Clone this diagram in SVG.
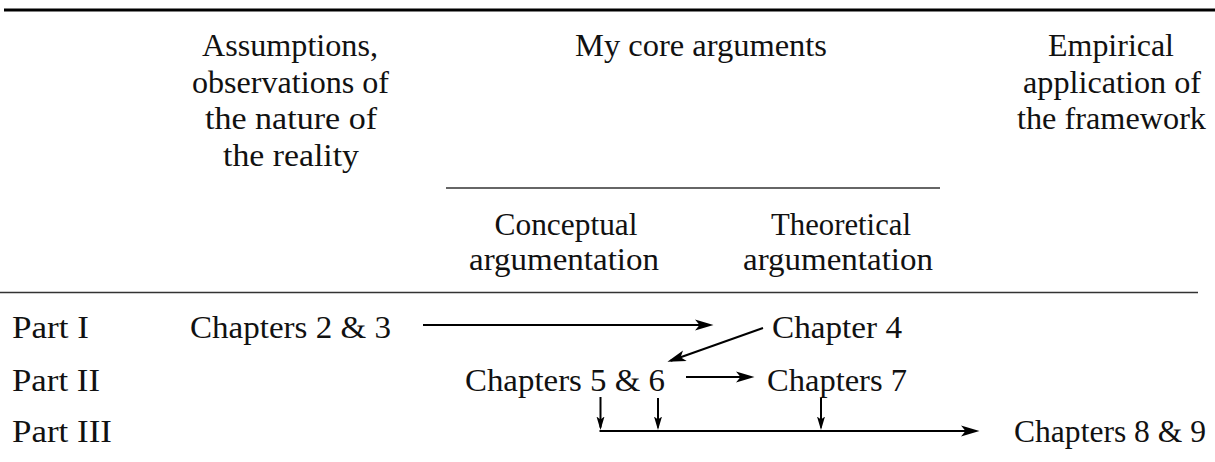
<svg xmlns="http://www.w3.org/2000/svg" width="1215" height="462" viewBox="0 0 1215 462">
<style>
text{font-family:'Liberation Serif','DejaVu Serif','Times New Roman',serif;font-size:32px;fill:#111;}
.m{text-anchor:middle;}
.rule{stroke:#000;fill:none;}
.thin{stroke:#333;stroke-width:1.3;fill:none;}
.arr{stroke:#000;stroke-width:2;fill:none;}
</style>
<defs>
<marker id="big" markerUnits="userSpaceOnUse" viewBox="0 -6 19 12" refX="15" refY="0" markerWidth="19" markerHeight="12" orient="auto">
<path d="M0,-5.5 L18.5,0 L0,5.5 L4.5,0 Z" fill="#000"/>
</marker>
<marker id="small" markerUnits="userSpaceOnUse" viewBox="0 -5 14 10" refX="11" refY="0" markerWidth="14" markerHeight="10" orient="auto">
<path d="M0,-4 L13.5,0 L0,4 L3,0 Z" fill="#000"/>
</marker>
</defs>
<g id="rules">
<line class="rule" x1="4" y1="10" x2="1215" y2="10" stroke-width="3"/>
<line class="thin" x1="446" y1="188" x2="940" y2="188"/>
<line class="thin" x1="0" y1="292.5" x2="1198" y2="292.5"/>
</g>
<g font-family="Liberation Serif, DejaVu Serif, serif">
<g id="header-assumptions">
<text class="m" x="290" y="56" textLength="176" lengthAdjust="spacingAndGlyphs">Assumptions,</text>
<text class="m" x="290.5" y="92.5" textLength="197" lengthAdjust="spacingAndGlyphs">observations of</text>
<text class="m" x="291" y="129" textLength="172" lengthAdjust="spacingAndGlyphs">the nature of</text>
<text class="m" x="291" y="165.5" textLength="136" lengthAdjust="spacingAndGlyphs">the reality</text>
</g>
<g id="header-core">
<text class="m" x="701" y="56" textLength="252" lengthAdjust="spacingAndGlyphs">My core arguments</text>
</g>
<g id="header-empirical">
<text class="m" x="1111" y="56" textLength="126" lengthAdjust="spacingAndGlyphs">Empirical</text>
<text class="m" x="1112" y="92.5" textLength="178" lengthAdjust="spacingAndGlyphs">application of</text>
<text class="m" x="1111.5" y="129" textLength="189" lengthAdjust="spacingAndGlyphs">the framework</text>
</g>
<g id="header-conceptual">
<text class="m" x="566" y="235" textLength="143" lengthAdjust="spacingAndGlyphs">Conceptual</text>
<text class="m" x="564" y="270" textLength="190" lengthAdjust="spacingAndGlyphs">argumentation</text>
</g>
<g id="header-theoretical">
<text class="m" x="841" y="235" textLength="140" lengthAdjust="spacingAndGlyphs">Theoretical</text>
<text class="m" x="838" y="270" textLength="190" lengthAdjust="spacingAndGlyphs">argumentation</text>
</g>
<g id="part1"><text x="12" y="338" textLength="77" lengthAdjust="spacingAndGlyphs">Part I</text></g>
<g id="part2"><text x="12" y="391" textLength="88" lengthAdjust="spacingAndGlyphs">Part II</text></g>
<g id="part3"><text x="12" y="442" textLength="100" lengthAdjust="spacingAndGlyphs">Part III</text></g>
<g id="ch23"><text x="190" y="338" textLength="201" lengthAdjust="spacingAndGlyphs">Chapters 2 &amp; 3</text></g>
<g id="ch4"><text x="772" y="338" textLength="130" lengthAdjust="spacingAndGlyphs">Chapter 4</text></g>
<g id="ch56"><text x="465" y="391" textLength="200" lengthAdjust="spacingAndGlyphs">Chapters 5 &amp; 6</text></g>
<g id="ch7"><text x="767" y="391" textLength="140" lengthAdjust="spacingAndGlyphs">Chapters 7</text></g>
<g id="ch89"><text x="1014" y="442" textLength="192" lengthAdjust="spacingAndGlyphs">Chapters 8 &amp; 9</text></g>
</g>
<g id="connectors">
<line class="arr" x1="423" y1="325" x2="710" y2="325" marker-end="url(#big)"/>
<line class="arr" x1="763" y1="328" x2="670.7" y2="360.7" marker-end="url(#big)"/>
<line class="arr" x1="686" y1="377" x2="751" y2="377" marker-end="url(#big)"/>
<line class="arr" x1="600.5" y1="397" x2="600.5" y2="427.5" marker-end="url(#small)"/>
<line class="arr" x1="658" y1="398" x2="658" y2="427.5" marker-end="url(#small)"/>
<line class="arr" x1="821" y1="398" x2="821" y2="427.5" marker-end="url(#small)"/>
<line class="arr" x1="599.5" y1="431" x2="976" y2="431" marker-end="url(#big)"/>
</g>
</svg>
